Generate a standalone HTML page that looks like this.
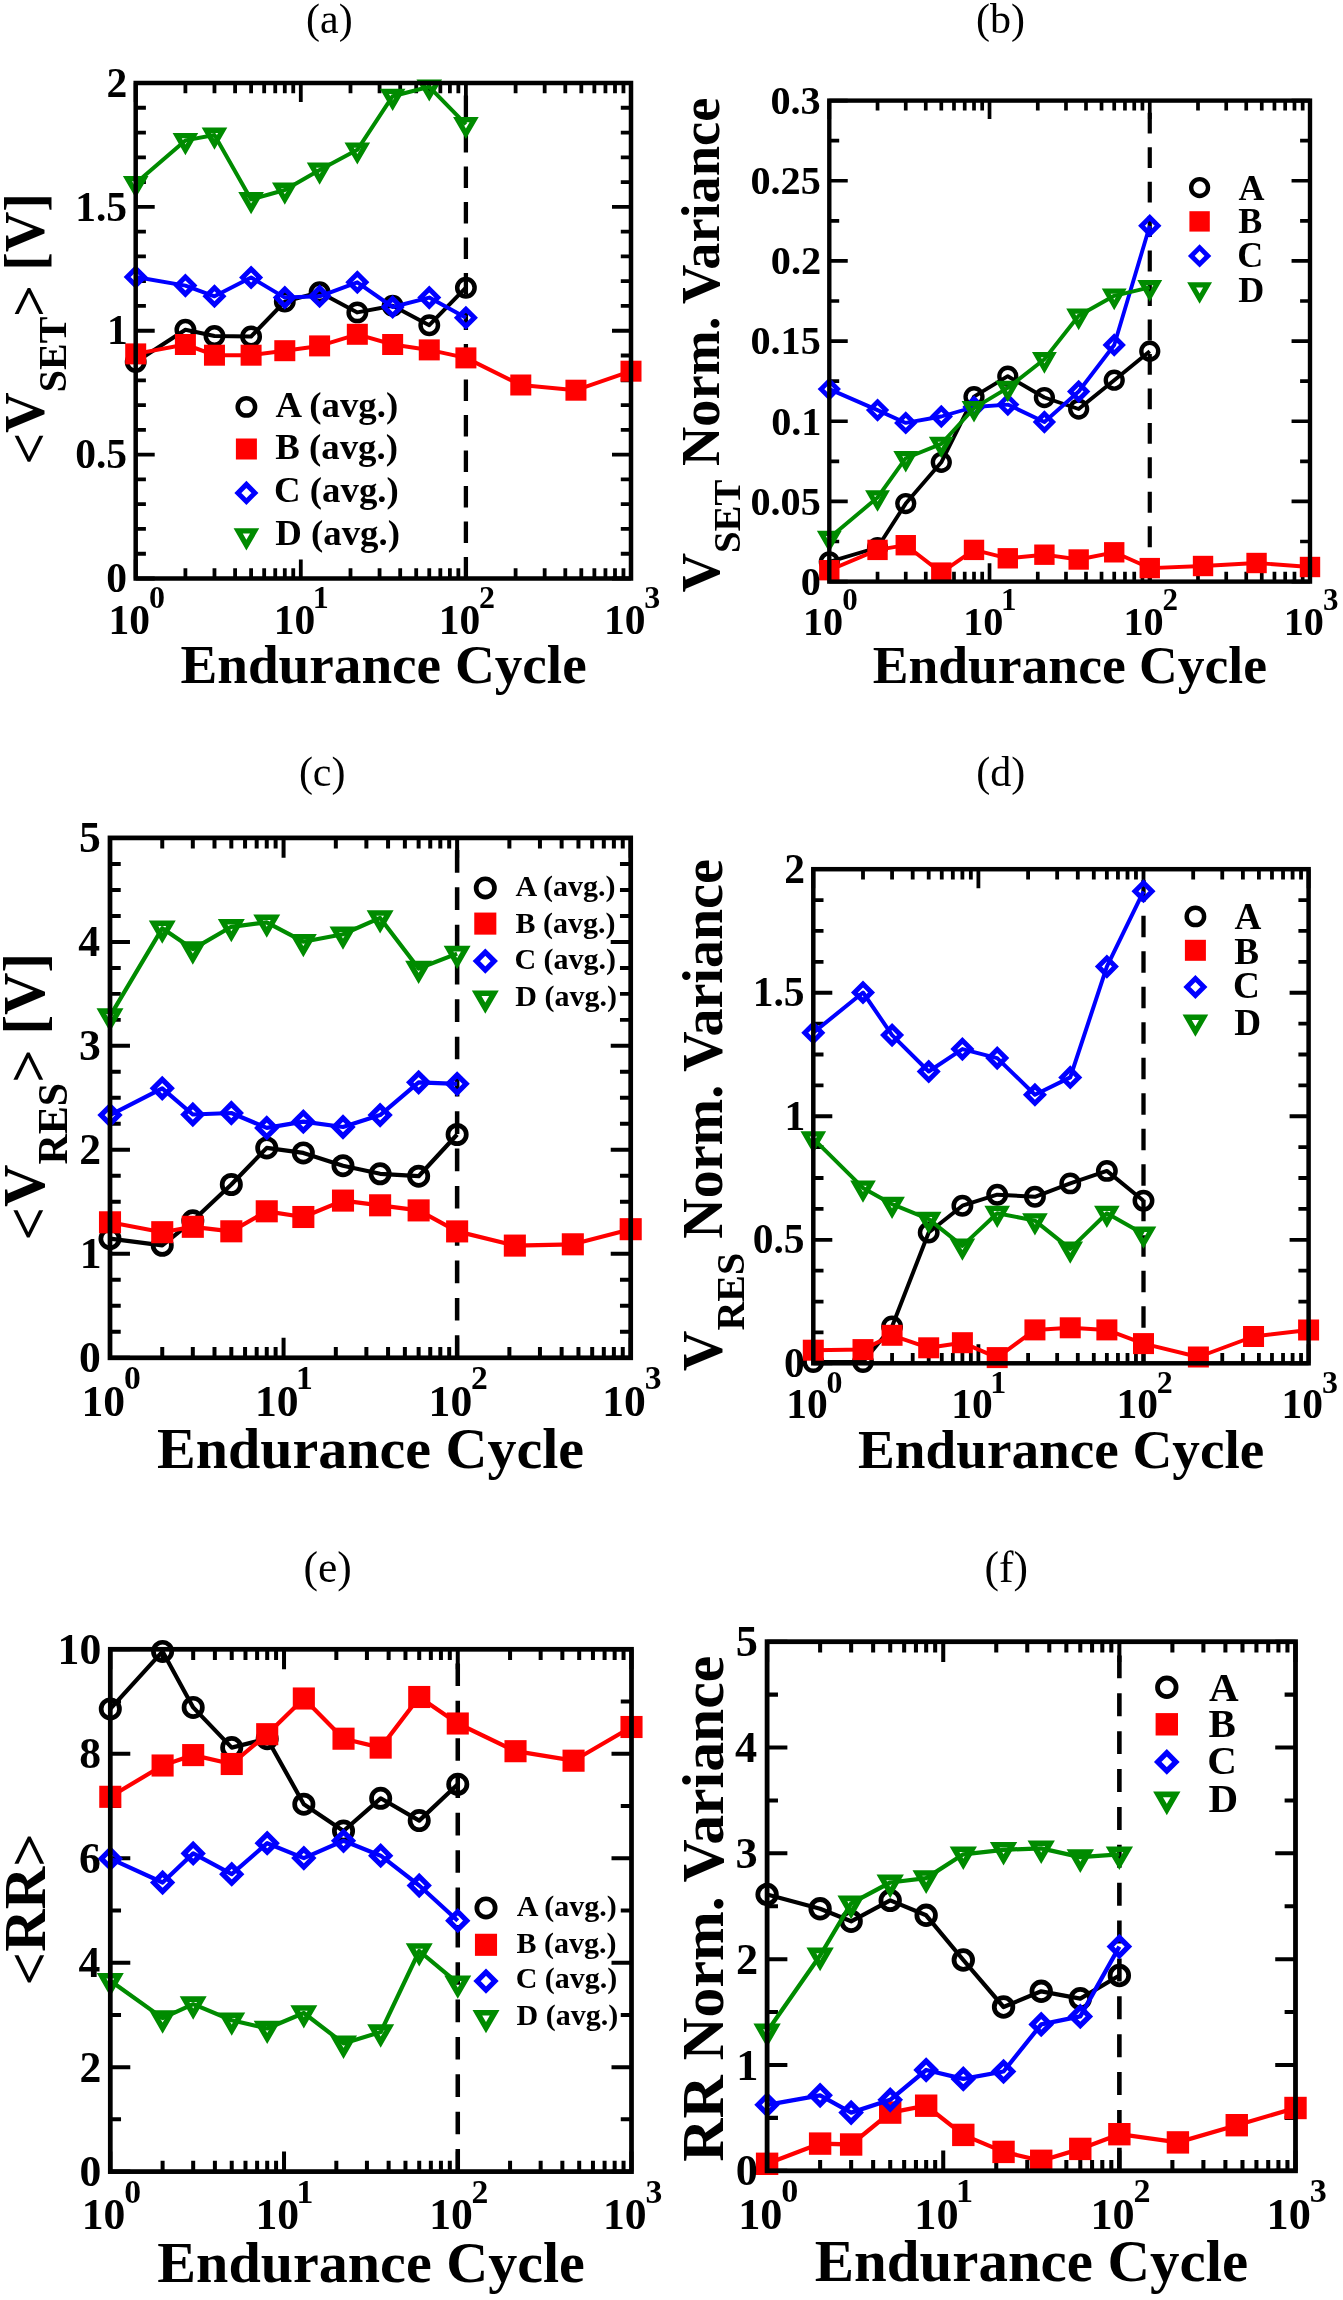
<!DOCTYPE html><html><head><meta charset="utf-8"><style>html,body{margin:0;padding:0;background:#fff;}svg{display:block;will-change:transform}</style></head><body>
<svg width="1343" height="2300" viewBox="0 0 1343 2300" font-family="&quot;Liberation Serif&quot;, serif">
<rect width="1343" height="2300" fill="#fff"/>
<path d="M135.70,578.50v-19.00M135.70,83.00v19.00M185.40,578.50v-10.20M185.40,83.00v10.20M214.47,578.50v-10.20M214.47,83.00v10.20M235.10,578.50v-10.20M235.10,83.00v10.20M251.10,578.50v-10.20M251.10,83.00v10.20M264.17,578.50v-10.20M264.17,83.00v10.20M275.23,578.50v-10.20M275.23,83.00v10.20M284.80,578.50v-10.20M284.80,83.00v10.20M293.25,578.50v-10.20M293.25,83.00v10.20M300.80,578.50v-19.00M300.80,83.00v19.00M350.50,578.50v-10.20M350.50,83.00v10.20M379.57,578.50v-10.20M379.57,83.00v10.20M400.20,578.50v-10.20M400.20,83.00v10.20M416.20,578.50v-10.20M416.20,83.00v10.20M429.27,578.50v-10.20M429.27,83.00v10.20M440.33,578.50v-10.20M440.33,83.00v10.20M449.90,578.50v-10.20M449.90,83.00v10.20M458.35,578.50v-10.20M458.35,83.00v10.20M465.90,578.50v-19.00M465.90,83.00v19.00M515.60,578.50v-10.20M515.60,83.00v10.20M544.67,578.50v-10.20M544.67,83.00v10.20M565.30,578.50v-10.20M565.30,83.00v10.20M581.30,578.50v-10.20M581.30,83.00v10.20M594.37,578.50v-10.20M594.37,83.00v10.20M605.43,578.50v-10.20M605.43,83.00v10.20M615.00,578.50v-10.20M615.00,83.00v10.20M623.45,578.50v-10.20M623.45,83.00v10.20M631.00,578.50v-19.00M631.00,83.00v19.00M135.70,578.50h19.00M631.00,578.50h-19.00M135.70,553.73h10.20M631.00,553.73h-10.20M135.70,528.95h10.20M631.00,528.95h-10.20M135.70,504.17h10.20M631.00,504.17h-10.20M135.70,479.40h10.20M631.00,479.40h-10.20M135.70,454.62h19.00M631.00,454.62h-19.00M135.70,429.85h10.20M631.00,429.85h-10.20M135.70,405.07h10.20M631.00,405.07h-10.20M135.70,380.30h10.20M631.00,380.30h-10.20M135.70,355.52h10.20M631.00,355.52h-10.20M135.70,330.75h19.00M631.00,330.75h-19.00M135.70,305.97h10.20M631.00,305.97h-10.20M135.70,281.20h10.20M631.00,281.20h-10.20M135.70,256.43h10.20M631.00,256.43h-10.20M135.70,231.65h10.20M631.00,231.65h-10.20M135.70,206.88h19.00M631.00,206.88h-19.00M135.70,182.10h10.20M631.00,182.10h-10.20M135.70,157.32h10.20M631.00,157.32h-10.20M135.70,132.55h10.20M631.00,132.55h-10.20M135.70,107.77h10.20M631.00,107.77h-10.20M135.70,83.00h19.00M631.00,83.00h-19.00" stroke="#000" stroke-width="3.80" fill="none"/>
<path d="M465.90,578.50V83.00" stroke="#000" stroke-width="4.30" stroke-dasharray="21.50 14.00"/>
<path d="M135.70,362.00L185.40,329.80L214.47,336.00L251.10,336.50L284.80,301.60L319.61,292.30L357.33,312.40L392.65,305.70L429.27,325.20L465.90,287.70" fill="none" stroke="#000000" stroke-width="4.00" stroke-linejoin="round"/>
<circle cx="135.70" cy="362.00" r="8.70" fill="none" stroke="#000" stroke-width="4.50"/>
<circle cx="185.40" cy="329.80" r="8.70" fill="none" stroke="#000" stroke-width="4.50"/>
<circle cx="214.47" cy="336.00" r="8.70" fill="none" stroke="#000" stroke-width="4.50"/>
<circle cx="251.10" cy="336.50" r="8.70" fill="none" stroke="#000" stroke-width="4.50"/>
<circle cx="284.80" cy="301.60" r="8.70" fill="none" stroke="#000" stroke-width="4.50"/>
<circle cx="319.61" cy="292.30" r="8.70" fill="none" stroke="#000" stroke-width="4.50"/>
<circle cx="357.33" cy="312.40" r="8.70" fill="none" stroke="#000" stroke-width="4.50"/>
<circle cx="392.65" cy="305.70" r="8.70" fill="none" stroke="#000" stroke-width="4.50"/>
<circle cx="429.27" cy="325.20" r="8.70" fill="none" stroke="#000" stroke-width="4.50"/>
<circle cx="465.90" cy="287.70" r="8.70" fill="none" stroke="#000" stroke-width="4.50"/>
<path d="M135.70,353.90L185.40,344.50L214.47,355.20L251.10,355.20L284.80,350.70L319.61,345.90L357.33,334.30L392.65,344.50L429.27,349.90L465.90,357.90L520.79,385.00L575.94,390.20L631.00,371.20" fill="none" stroke="#ff0000" stroke-width="4.00" stroke-linejoin="round"/>
<rect x="125.20" y="343.40" width="21.00" height="21.00" fill="#ff0000"/>
<rect x="174.90" y="334.00" width="21.00" height="21.00" fill="#ff0000"/>
<rect x="203.97" y="344.70" width="21.00" height="21.00" fill="#ff0000"/>
<rect x="240.60" y="344.70" width="21.00" height="21.00" fill="#ff0000"/>
<rect x="274.30" y="340.20" width="21.00" height="21.00" fill="#ff0000"/>
<rect x="309.11" y="335.40" width="21.00" height="21.00" fill="#ff0000"/>
<rect x="346.83" y="323.80" width="21.00" height="21.00" fill="#ff0000"/>
<rect x="382.15" y="334.00" width="21.00" height="21.00" fill="#ff0000"/>
<rect x="418.77" y="339.40" width="21.00" height="21.00" fill="#ff0000"/>
<rect x="455.40" y="347.40" width="21.00" height="21.00" fill="#ff0000"/>
<rect x="510.29" y="374.50" width="21.00" height="21.00" fill="#ff0000"/>
<rect x="565.44" y="379.70" width="21.00" height="21.00" fill="#ff0000"/>
<rect x="620.50" y="360.70" width="21.00" height="21.00" fill="#ff0000"/>
<path d="M135.70,277.00L185.40,285.60L214.47,296.30L251.10,277.50L284.80,297.60L319.61,296.30L357.33,282.30L392.65,307.00L429.27,297.60L465.90,317.70" fill="none" stroke="#0000ff" stroke-width="4.00" stroke-linejoin="round"/>
<path d="M127.20,277.00L135.70,268.50L144.20,277.00L135.70,285.50Z" fill="none" stroke="#0000ff" stroke-width="5.00"/>
<path d="M176.90,285.60L185.40,277.10L193.90,285.60L185.40,294.10Z" fill="none" stroke="#0000ff" stroke-width="5.00"/>
<path d="M205.97,296.30L214.47,287.80L222.97,296.30L214.47,304.80Z" fill="none" stroke="#0000ff" stroke-width="5.00"/>
<path d="M242.60,277.50L251.10,269.00L259.60,277.50L251.10,286.00Z" fill="none" stroke="#0000ff" stroke-width="5.00"/>
<path d="M276.30,297.60L284.80,289.10L293.30,297.60L284.80,306.10Z" fill="none" stroke="#0000ff" stroke-width="5.00"/>
<path d="M311.11,296.30L319.61,287.80L328.11,296.30L319.61,304.80Z" fill="none" stroke="#0000ff" stroke-width="5.00"/>
<path d="M348.83,282.30L357.33,273.80L365.83,282.30L357.33,290.80Z" fill="none" stroke="#0000ff" stroke-width="5.00"/>
<path d="M384.15,307.00L392.65,298.50L401.15,307.00L392.65,315.50Z" fill="none" stroke="#0000ff" stroke-width="5.00"/>
<path d="M420.77,297.60L429.27,289.10L437.77,297.60L429.27,306.10Z" fill="none" stroke="#0000ff" stroke-width="5.00"/>
<path d="M457.40,317.70L465.90,309.20L474.40,317.70L465.90,326.20Z" fill="none" stroke="#0000ff" stroke-width="5.00"/>
<path d="M135.70,183.30L185.40,140.40L214.47,135.00L251.10,199.40L284.80,190.00L319.61,169.90L357.33,149.80L392.65,96.20L429.27,86.80L465.90,124.30" fill="none" stroke="#008b00" stroke-width="4.00" stroke-linejoin="round"/>
<path d="M127.47,178.55L143.93,178.55L135.70,192.80Z" fill="none" stroke="#008b00" stroke-width="5.30"/>
<path d="M177.17,135.65L193.63,135.65L185.40,149.90Z" fill="none" stroke="#008b00" stroke-width="5.30"/>
<path d="M206.25,130.25L222.70,130.25L214.47,144.50Z" fill="none" stroke="#008b00" stroke-width="5.30"/>
<path d="M242.87,194.65L259.33,194.65L251.10,208.90Z" fill="none" stroke="#008b00" stroke-width="5.30"/>
<path d="M276.57,185.25L293.03,185.25L284.80,199.50Z" fill="none" stroke="#008b00" stroke-width="5.30"/>
<path d="M311.38,165.15L327.84,165.15L319.61,179.40Z" fill="none" stroke="#008b00" stroke-width="5.30"/>
<path d="M349.11,145.05L365.56,145.05L357.33,159.30Z" fill="none" stroke="#008b00" stroke-width="5.30"/>
<path d="M384.42,91.45L400.87,91.45L392.65,105.70Z" fill="none" stroke="#008b00" stroke-width="5.30"/>
<path d="M421.05,82.05L437.50,82.05L429.27,96.30Z" fill="none" stroke="#008b00" stroke-width="5.30"/>
<path d="M457.67,119.55L474.13,119.55L465.90,133.80Z" fill="none" stroke="#008b00" stroke-width="5.30"/>
<rect x="135.70" y="83.00" width="495.30" height="495.50" fill="none" stroke="#000" stroke-width="4.50"/>
<text x="106.33" y="592.20" font-size="41.50" font-weight="bold">0</text>
<text x="75.14" y="468.32" font-size="41.50" font-weight="bold">0.5</text>
<text x="106.90" y="344.44" font-size="41.50" font-weight="bold">1</text>
<text x="75.14" y="220.57" font-size="41.50" font-weight="bold">1.5</text>
<text x="106.53" y="96.69" font-size="41.50" font-weight="bold">2</text>
<text x="108.58" y="633.50" font-size="41.50" font-weight="bold">10</text>
<text x="148.98" y="608.20" font-size="31.96" font-weight="bold">0</text>
<text x="273.68" y="633.50" font-size="41.50" font-weight="bold">10</text>
<text x="312.74" y="608.20" font-size="31.96" font-weight="bold">1</text>
<text x="438.78" y="633.50" font-size="41.50" font-weight="bold">10</text>
<text x="479.06" y="608.20" font-size="31.96" font-weight="bold">2</text>
<text x="603.88" y="633.50" font-size="41.50" font-weight="bold">10</text>
<text x="644.30" y="608.20" font-size="31.96" font-weight="bold">3</text>
<text x="180.43" y="682.50" font-size="55.20" font-weight="bold">Endurance Cycle</text>
<text x="306.09" y="32.60" font-size="42.00">(a)</text>
<circle cx="246.40" cy="406.90" r="8.70" fill="none" stroke="#000" stroke-width="4.50"/>
<text x="275.54" y="416.60" font-size="36.80" font-weight="bold">A (avg.)</text>
<rect x="235.90" y="438.50" width="21.00" height="21.00" fill="#ff0000"/>
<text x="275.29" y="459.30" font-size="36.80" font-weight="bold">B (avg.)</text>
<path d="M237.90,492.90L246.40,484.40L254.90,492.90L246.40,501.40Z" fill="none" stroke="#0000ff" stroke-width="5.00"/>
<text x="274.10" y="502.20" font-size="36.80" font-weight="bold">C (avg.)</text>
<path d="M238.17,530.95L254.63,530.95L246.40,545.20Z" fill="none" stroke="#008b00" stroke-width="5.30"/>
<text x="275.25" y="545.40" font-size="36.80" font-weight="bold">D (avg.)</text>
<text transform="translate(43.60,329.50) rotate(-90)" x="-135.12" y="0" font-size="56.00" font-weight="bold"><tspan dy="4.20">&lt;</tspan><tspan dy="-4.20">V</tspan><tspan font-size="40.00" dy="22.00">SET</tspan><tspan dy="-17.80">&gt;</tspan><tspan dy="-4.20"> [V]</tspan></text>
<path d="M829.30,581.60v-18.44M829.30,100.60v18.44M877.54,581.60v-9.90M877.54,100.60v9.90M905.75,581.60v-9.90M905.75,100.60v9.90M925.77,581.60v-9.90M925.77,100.60v9.90M941.30,581.60v-9.90M941.30,100.60v9.90M953.99,581.60v-9.90M953.99,100.60v9.90M964.71,581.60v-9.90M964.71,100.60v9.90M974.01,581.60v-9.90M974.01,100.60v9.90M982.20,581.60v-9.90M982.20,100.60v9.90M989.53,581.60v-18.44M989.53,100.60v18.44M1037.77,581.60v-9.90M1037.77,100.60v9.90M1065.98,581.60v-9.90M1065.98,100.60v9.90M1086.00,581.60v-9.90M1086.00,100.60v9.90M1101.53,581.60v-9.90M1101.53,100.60v9.90M1114.22,581.60v-9.90M1114.22,100.60v9.90M1124.95,581.60v-9.90M1124.95,100.60v9.90M1134.24,581.60v-9.90M1134.24,100.60v9.90M1142.43,581.60v-9.90M1142.43,100.60v9.90M1149.77,581.60v-18.44M1149.77,100.60v18.44M1198.00,581.60v-9.90M1198.00,100.60v9.90M1226.22,581.60v-9.90M1226.22,100.60v9.90M1246.24,581.60v-9.90M1246.24,100.60v9.90M1261.76,581.60v-9.90M1261.76,100.60v9.90M1274.45,581.60v-9.90M1274.45,100.60v9.90M1285.18,581.60v-9.90M1285.18,100.60v9.90M1294.47,581.60v-9.90M1294.47,100.60v9.90M1302.67,581.60v-9.90M1302.67,100.60v9.90M1310.00,581.60v-18.44M1310.00,100.60v18.44M829.30,581.60h18.44M1310.00,581.60h-18.44M829.30,541.52h9.90M1310.00,541.52h-9.90M829.30,501.43h18.44M1310.00,501.43h-18.44M829.30,461.35h9.90M1310.00,461.35h-9.90M829.30,421.27h18.44M1310.00,421.27h-18.44M829.30,381.18h9.90M1310.00,381.18h-9.90M829.30,341.10h18.44M1310.00,341.10h-18.44M829.30,301.02h9.90M1310.00,301.02h-9.90M829.30,260.93h18.44M1310.00,260.93h-18.44M829.30,220.85h9.90M1310.00,220.85h-9.90M829.30,180.77h18.44M1310.00,180.77h-18.44M829.30,140.68h9.90M1310.00,140.68h-9.90M829.30,100.60h18.44M1310.00,100.60h-18.44" stroke="#000" stroke-width="3.69" fill="none"/>
<path d="M1149.77,581.60V100.60" stroke="#000" stroke-width="4.17" stroke-dasharray="20.87 13.59"/>
<path d="M829.30,561.80L877.54,547.50L905.75,503.60L941.30,462.30L974.01,396.70L1007.79,376.20L1044.40,397.50L1078.67,409.00L1114.22,380.20L1149.77,351.20" fill="none" stroke="#000000" stroke-width="3.88" stroke-linejoin="round"/>
<circle cx="829.30" cy="561.80" r="8.44" fill="none" stroke="#000" stroke-width="4.37"/>
<circle cx="877.54" cy="547.50" r="8.44" fill="none" stroke="#000" stroke-width="4.37"/>
<circle cx="905.75" cy="503.60" r="8.44" fill="none" stroke="#000" stroke-width="4.37"/>
<circle cx="941.30" cy="462.30" r="8.44" fill="none" stroke="#000" stroke-width="4.37"/>
<circle cx="974.01" cy="396.70" r="8.44" fill="none" stroke="#000" stroke-width="4.37"/>
<circle cx="1007.79" cy="376.20" r="8.44" fill="none" stroke="#000" stroke-width="4.37"/>
<circle cx="1044.40" cy="397.50" r="8.44" fill="none" stroke="#000" stroke-width="4.37"/>
<circle cx="1078.67" cy="409.00" r="8.44" fill="none" stroke="#000" stroke-width="4.37"/>
<circle cx="1114.22" cy="380.20" r="8.44" fill="none" stroke="#000" stroke-width="4.37"/>
<circle cx="1149.77" cy="351.20" r="8.44" fill="none" stroke="#000" stroke-width="4.37"/>
<path d="M829.30,570.20L877.54,549.90L905.75,545.20L941.30,572.60L974.01,549.90L1007.79,558.30L1044.40,554.70L1078.67,559.50L1114.22,552.30L1149.77,568.10L1203.03,566.00L1256.57,563.00L1310.00,567.00" fill="none" stroke="#ff0000" stroke-width="3.88" stroke-linejoin="round"/>
<rect x="819.11" y="560.01" width="20.38" height="20.38" fill="#ff0000"/>
<rect x="867.34" y="539.71" width="20.38" height="20.38" fill="#ff0000"/>
<rect x="895.56" y="535.01" width="20.38" height="20.38" fill="#ff0000"/>
<rect x="931.11" y="562.41" width="20.38" height="20.38" fill="#ff0000"/>
<rect x="963.81" y="539.71" width="20.38" height="20.38" fill="#ff0000"/>
<rect x="997.60" y="548.11" width="20.38" height="20.38" fill="#ff0000"/>
<rect x="1034.21" y="544.51" width="20.38" height="20.38" fill="#ff0000"/>
<rect x="1068.48" y="549.31" width="20.38" height="20.38" fill="#ff0000"/>
<rect x="1104.03" y="542.11" width="20.38" height="20.38" fill="#ff0000"/>
<rect x="1139.58" y="557.91" width="20.38" height="20.38" fill="#ff0000"/>
<rect x="1192.84" y="555.81" width="20.38" height="20.38" fill="#ff0000"/>
<rect x="1246.37" y="552.81" width="20.38" height="20.38" fill="#ff0000"/>
<rect x="1299.81" y="556.81" width="20.38" height="20.38" fill="#ff0000"/>
<path d="M829.30,389.10L877.54,410.10L905.75,422.90L941.30,416.50L974.01,407.00L1007.79,404.60L1044.40,422.00L1078.67,391.50L1114.22,345.00L1149.77,225.80" fill="none" stroke="#0000ff" stroke-width="3.88" stroke-linejoin="round"/>
<path d="M821.05,389.10L829.30,380.85L837.55,389.10L829.30,397.35Z" fill="none" stroke="#0000ff" stroke-width="4.85"/>
<path d="M869.29,410.10L877.54,401.85L885.78,410.10L877.54,418.35Z" fill="none" stroke="#0000ff" stroke-width="4.85"/>
<path d="M897.50,422.90L905.75,414.65L914.00,422.90L905.75,431.15Z" fill="none" stroke="#0000ff" stroke-width="4.85"/>
<path d="M933.05,416.50L941.30,408.25L949.55,416.50L941.30,424.75Z" fill="none" stroke="#0000ff" stroke-width="4.85"/>
<path d="M965.76,407.00L974.01,398.75L982.25,407.00L974.01,415.25Z" fill="none" stroke="#0000ff" stroke-width="4.85"/>
<path d="M999.54,404.60L1007.79,396.35L1016.04,404.60L1007.79,412.85Z" fill="none" stroke="#0000ff" stroke-width="4.85"/>
<path d="M1036.15,422.00L1044.40,413.75L1052.65,422.00L1044.40,430.25Z" fill="none" stroke="#0000ff" stroke-width="4.85"/>
<path d="M1070.42,391.50L1078.67,383.25L1086.92,391.50L1078.67,399.75Z" fill="none" stroke="#0000ff" stroke-width="4.85"/>
<path d="M1105.97,345.00L1114.22,336.75L1122.47,345.00L1114.22,353.25Z" fill="none" stroke="#0000ff" stroke-width="4.85"/>
<path d="M1141.52,225.80L1149.77,217.55L1158.02,225.80L1149.77,234.05Z" fill="none" stroke="#0000ff" stroke-width="4.85"/>
<path d="M829.30,538.00L877.54,497.50L905.75,458.20L941.30,443.90L974.01,408.20L1007.79,387.90L1044.40,359.30L1078.67,315.80L1114.22,295.80L1149.77,287.30" fill="none" stroke="#008b00" stroke-width="3.88" stroke-linejoin="round"/>
<path d="M821.32,533.39L837.28,533.39L829.30,547.22Z" fill="none" stroke="#008b00" stroke-width="5.14"/>
<path d="M869.55,492.89L885.52,492.89L877.54,506.72Z" fill="none" stroke="#008b00" stroke-width="5.14"/>
<path d="M897.77,453.59L913.74,453.59L905.75,467.42Z" fill="none" stroke="#008b00" stroke-width="5.14"/>
<path d="M933.31,439.29L949.28,439.29L941.30,453.12Z" fill="none" stroke="#008b00" stroke-width="5.14"/>
<path d="M966.02,403.59L981.99,403.59L974.01,417.42Z" fill="none" stroke="#008b00" stroke-width="5.14"/>
<path d="M999.81,383.29L1015.78,383.29L1007.79,397.12Z" fill="none" stroke="#008b00" stroke-width="5.14"/>
<path d="M1036.42,354.69L1052.39,354.69L1044.40,368.52Z" fill="none" stroke="#008b00" stroke-width="5.14"/>
<path d="M1070.69,311.19L1086.66,311.19L1078.67,325.02Z" fill="none" stroke="#008b00" stroke-width="5.14"/>
<path d="M1106.23,291.19L1122.20,291.19L1114.22,305.02Z" fill="none" stroke="#008b00" stroke-width="5.14"/>
<path d="M1141.78,282.69L1157.75,282.69L1149.77,296.52Z" fill="none" stroke="#008b00" stroke-width="5.14"/>
<rect x="829.30" y="100.60" width="480.70" height="481.00" fill="none" stroke="#000" stroke-width="4.37"/>
<text x="800.80" y="594.89" font-size="40.28" font-weight="bold">0</text>
<text x="750.39" y="514.72" font-size="40.28" font-weight="bold">0.05</text>
<text x="771.14" y="434.56" font-size="40.28" font-weight="bold">0.1</text>
<text x="750.39" y="354.39" font-size="40.28" font-weight="bold">0.15</text>
<text x="770.79" y="274.22" font-size="40.28" font-weight="bold">0.2</text>
<text x="750.39" y="194.06" font-size="40.28" font-weight="bold">0.25</text>
<text x="770.43" y="113.89" font-size="40.28" font-weight="bold">0.3</text>
<text x="802.98" y="634.98" font-size="40.28" font-weight="bold">10</text>
<text x="842.19" y="610.42" font-size="31.01" font-weight="bold">0</text>
<text x="963.21" y="634.98" font-size="40.28" font-weight="bold">10</text>
<text x="1001.12" y="610.42" font-size="31.01" font-weight="bold">1</text>
<text x="1123.44" y="634.98" font-size="40.28" font-weight="bold">10</text>
<text x="1162.54" y="610.42" font-size="31.01" font-weight="bold">2</text>
<text x="1283.68" y="634.98" font-size="40.28" font-weight="bold">10</text>
<text x="1322.91" y="610.42" font-size="31.01" font-weight="bold">3</text>
<text x="872.71" y="683.00" font-size="53.57" font-weight="bold">Endurance Cycle</text>
<text x="976.01" y="32.60" font-size="42.00">(b)</text>
<circle cx="1199.60" cy="187.60" r="8.44" fill="none" stroke="#000" stroke-width="4.37"/>
<text x="1238.55" y="200.20" font-size="36.00" font-weight="bold">A</text>
<rect x="1189.41" y="211.21" width="20.38" height="20.38" fill="#ff0000"/>
<text x="1238.30" y="232.80" font-size="36.00" font-weight="bold">B</text>
<path d="M1191.35,255.90L1199.60,247.65L1207.85,255.90L1199.60,264.15Z" fill="none" stroke="#0000ff" stroke-width="4.85"/>
<text x="1237.14" y="267.20" font-size="36.00" font-weight="bold">C</text>
<path d="M1191.62,284.90L1207.58,284.90L1199.60,298.73Z" fill="none" stroke="#008b00" stroke-width="5.14"/>
<text x="1238.27" y="301.60" font-size="36.00" font-weight="bold">D</text>
<text transform="translate(718.60,342.40) rotate(-90)" x="-249.85" y="0" font-size="54.35" font-weight="bold"><tspan dy="0.00">V</tspan><tspan font-size="38.82" dy="21.35">SET</tspan><tspan dy="-21.35"> Norm. Variance</tspan></text>
<path d="M110.00,1357.80v-19.97M110.00,837.90v19.97M162.25,1357.80v-10.72M162.25,837.90v10.72M192.81,1357.80v-10.72M192.81,837.90v10.72M214.50,1357.80v-10.72M214.50,837.90v10.72M231.32,1357.80v-10.72M231.32,837.90v10.72M245.06,1357.80v-10.72M245.06,837.90v10.72M256.68,1357.80v-10.72M256.68,837.90v10.72M266.75,1357.80v-10.72M266.75,837.90v10.72M275.62,1357.80v-10.72M275.62,837.90v10.72M283.57,1357.80v-19.97M283.57,837.90v19.97M335.82,1357.80v-10.72M335.82,837.90v10.72M366.38,1357.80v-10.72M366.38,837.90v10.72M388.06,1357.80v-10.72M388.06,837.90v10.72M404.88,1357.80v-10.72M404.88,837.90v10.72M418.63,1357.80v-10.72M418.63,837.90v10.72M430.25,1357.80v-10.72M430.25,837.90v10.72M440.31,1357.80v-10.72M440.31,837.90v10.72M449.19,1357.80v-10.72M449.19,837.90v10.72M457.13,1357.80v-19.97M457.13,837.90v19.97M509.38,1357.80v-10.72M509.38,837.90v10.72M539.95,1357.80v-10.72M539.95,837.90v10.72M561.63,1357.80v-10.72M561.63,837.90v10.72M578.45,1357.80v-10.72M578.45,837.90v10.72M592.19,1357.80v-10.72M592.19,837.90v10.72M603.81,1357.80v-10.72M603.81,837.90v10.72M613.88,1357.80v-10.72M613.88,837.90v10.72M622.76,1357.80v-10.72M622.76,837.90v10.72M630.70,1357.80v-19.97M630.70,837.90v19.97M110.00,1357.80h19.97M630.70,1357.80h-19.97M110.00,1331.81h10.72M630.70,1331.81h-10.72M110.00,1305.81h10.72M630.70,1305.81h-10.72M110.00,1279.82h10.72M630.70,1279.82h-10.72M110.00,1253.82h19.97M630.70,1253.82h-19.97M110.00,1227.83h10.72M630.70,1227.83h-10.72M110.00,1201.83h10.72M630.70,1201.83h-10.72M110.00,1175.84h10.72M630.70,1175.84h-10.72M110.00,1149.84h19.97M630.70,1149.84h-19.97M110.00,1123.85h10.72M630.70,1123.85h-10.72M110.00,1097.85h10.72M630.70,1097.85h-10.72M110.00,1071.86h10.72M630.70,1071.86h-10.72M110.00,1045.86h19.97M630.70,1045.86h-19.97M110.00,1019.87h10.72M630.70,1019.87h-10.72M110.00,993.87h10.72M630.70,993.87h-10.72M110.00,967.88h10.72M630.70,967.88h-10.72M110.00,941.88h19.97M630.70,941.88h-19.97M110.00,915.88h10.72M630.70,915.88h-10.72M110.00,889.89h10.72M630.70,889.89h-10.72M110.00,863.89h10.72M630.70,863.89h-10.72M110.00,837.90h19.97M630.70,837.90h-19.97" stroke="#000" stroke-width="3.99" fill="none"/>
<path d="M457.13,1357.80V837.90" stroke="#000" stroke-width="4.52" stroke-dasharray="22.60 14.72"/>
<path d="M110.00,1238.70L162.25,1245.30L192.81,1220.80L231.32,1184.50L266.75,1147.90L303.34,1152.90L343.00,1165.70L380.12,1173.80L418.63,1176.20L457.13,1134.50" fill="none" stroke="#000000" stroke-width="4.21" stroke-linejoin="round"/>
<circle cx="110.00" cy="1238.70" r="9.15" fill="none" stroke="#000" stroke-width="4.73"/>
<circle cx="162.25" cy="1245.30" r="9.15" fill="none" stroke="#000" stroke-width="4.73"/>
<circle cx="192.81" cy="1220.80" r="9.15" fill="none" stroke="#000" stroke-width="4.73"/>
<circle cx="231.32" cy="1184.50" r="9.15" fill="none" stroke="#000" stroke-width="4.73"/>
<circle cx="266.75" cy="1147.90" r="9.15" fill="none" stroke="#000" stroke-width="4.73"/>
<circle cx="303.34" cy="1152.90" r="9.15" fill="none" stroke="#000" stroke-width="4.73"/>
<circle cx="343.00" cy="1165.70" r="9.15" fill="none" stroke="#000" stroke-width="4.73"/>
<circle cx="380.12" cy="1173.80" r="9.15" fill="none" stroke="#000" stroke-width="4.73"/>
<circle cx="418.63" cy="1176.20" r="9.15" fill="none" stroke="#000" stroke-width="4.73"/>
<circle cx="457.13" cy="1134.50" r="9.15" fill="none" stroke="#000" stroke-width="4.73"/>
<path d="M110.00,1222.30L162.25,1232.20L192.81,1226.80L231.32,1231.30L266.75,1211.30L303.34,1217.00L343.00,1200.60L380.12,1205.30L418.63,1210.40L457.13,1231.40L514.83,1245.60L572.82,1244.30L630.70,1229.20" fill="none" stroke="#ff0000" stroke-width="4.21" stroke-linejoin="round"/>
<rect x="98.96" y="1211.26" width="22.08" height="22.08" fill="#ff0000"/>
<rect x="151.21" y="1221.16" width="22.08" height="22.08" fill="#ff0000"/>
<rect x="181.77" y="1215.76" width="22.08" height="22.08" fill="#ff0000"/>
<rect x="220.28" y="1220.26" width="22.08" height="22.08" fill="#ff0000"/>
<rect x="255.71" y="1200.26" width="22.08" height="22.08" fill="#ff0000"/>
<rect x="292.30" y="1205.96" width="22.08" height="22.08" fill="#ff0000"/>
<rect x="331.96" y="1189.56" width="22.08" height="22.08" fill="#ff0000"/>
<rect x="369.08" y="1194.26" width="22.08" height="22.08" fill="#ff0000"/>
<rect x="407.59" y="1199.36" width="22.08" height="22.08" fill="#ff0000"/>
<rect x="446.09" y="1220.36" width="22.08" height="22.08" fill="#ff0000"/>
<rect x="503.80" y="1234.56" width="22.08" height="22.08" fill="#ff0000"/>
<rect x="561.78" y="1233.26" width="22.08" height="22.08" fill="#ff0000"/>
<rect x="619.66" y="1218.16" width="22.08" height="22.08" fill="#ff0000"/>
<path d="M110.00,1115.10L162.25,1088.30L192.81,1114.50L231.32,1113.00L266.75,1127.90L303.34,1121.70L343.00,1127.00L380.12,1115.10L418.63,1082.30L457.13,1083.80" fill="none" stroke="#0000ff" stroke-width="4.21" stroke-linejoin="round"/>
<path d="M101.06,1115.10L110.00,1106.16L118.94,1115.10L110.00,1124.04Z" fill="none" stroke="#0000ff" stroke-width="5.26"/>
<path d="M153.31,1088.30L162.25,1079.36L171.18,1088.30L162.25,1097.24Z" fill="none" stroke="#0000ff" stroke-width="5.26"/>
<path d="M183.88,1114.50L192.81,1105.56L201.75,1114.50L192.81,1123.44Z" fill="none" stroke="#0000ff" stroke-width="5.26"/>
<path d="M222.38,1113.00L231.32,1104.06L240.25,1113.00L231.32,1121.94Z" fill="none" stroke="#0000ff" stroke-width="5.26"/>
<path d="M257.81,1127.90L266.75,1118.96L275.68,1127.90L266.75,1136.84Z" fill="none" stroke="#0000ff" stroke-width="5.26"/>
<path d="M294.41,1121.70L303.34,1112.76L312.28,1121.70L303.34,1130.64Z" fill="none" stroke="#0000ff" stroke-width="5.26"/>
<path d="M334.06,1127.00L343.00,1118.06L351.94,1127.00L343.00,1135.94Z" fill="none" stroke="#0000ff" stroke-width="5.26"/>
<path d="M371.19,1115.10L380.12,1106.16L389.06,1115.10L380.12,1124.04Z" fill="none" stroke="#0000ff" stroke-width="5.26"/>
<path d="M409.69,1082.30L418.63,1073.36L427.56,1082.30L418.63,1091.24Z" fill="none" stroke="#0000ff" stroke-width="5.26"/>
<path d="M448.20,1083.80L457.13,1074.86L466.07,1083.80L457.13,1092.74Z" fill="none" stroke="#0000ff" stroke-width="5.26"/>
<path d="M110.00,1016.10L162.25,928.30L192.81,949.10L231.32,926.80L266.75,922.30L303.34,941.70L343.00,934.20L380.12,917.90L418.63,968.50L457.13,953.60" fill="none" stroke="#008b00" stroke-width="4.21" stroke-linejoin="round"/>
<path d="M101.35,1011.11L118.65,1011.11L110.00,1026.09Z" fill="none" stroke="#008b00" stroke-width="5.57"/>
<path d="M153.60,923.31L170.90,923.31L162.25,938.29Z" fill="none" stroke="#008b00" stroke-width="5.57"/>
<path d="M184.16,944.11L201.46,944.11L192.81,959.09Z" fill="none" stroke="#008b00" stroke-width="5.57"/>
<path d="M222.67,921.81L239.97,921.81L231.32,936.79Z" fill="none" stroke="#008b00" stroke-width="5.57"/>
<path d="M258.10,917.31L275.40,917.31L266.75,932.29Z" fill="none" stroke="#008b00" stroke-width="5.57"/>
<path d="M294.69,936.71L311.99,936.71L303.34,951.69Z" fill="none" stroke="#008b00" stroke-width="5.57"/>
<path d="M334.35,929.21L351.65,929.21L343.00,944.19Z" fill="none" stroke="#008b00" stroke-width="5.57"/>
<path d="M371.47,912.91L388.77,912.91L380.12,927.89Z" fill="none" stroke="#008b00" stroke-width="5.57"/>
<path d="M409.98,963.51L427.28,963.51L418.63,978.49Z" fill="none" stroke="#008b00" stroke-width="5.57"/>
<path d="M448.48,948.61L465.78,948.61L457.13,963.59Z" fill="none" stroke="#008b00" stroke-width="5.57"/>
<rect x="110.00" y="837.90" width="520.70" height="519.90" fill="none" stroke="#000" stroke-width="4.73"/>
<text x="79.12" y="1372.20" font-size="43.63" font-weight="bold">0</text>
<text x="79.72" y="1268.22" font-size="43.63" font-weight="bold">1</text>
<text x="79.34" y="1164.24" font-size="43.63" font-weight="bold">2</text>
<text x="78.95" y="1060.26" font-size="43.63" font-weight="bold">3</text>
<text x="78.27" y="956.28" font-size="43.63" font-weight="bold">4</text>
<text x="79.06" y="852.30" font-size="43.63" font-weight="bold">5</text>
<text x="81.49" y="1415.62" font-size="43.63" font-weight="bold">10</text>
<text x="123.96" y="1389.02" font-size="33.59" font-weight="bold">0</text>
<text x="255.05" y="1415.62" font-size="43.63" font-weight="bold">10</text>
<text x="296.12" y="1389.02" font-size="33.59" font-weight="bold">1</text>
<text x="428.62" y="1415.62" font-size="43.63" font-weight="bold">10</text>
<text x="470.97" y="1389.02" font-size="33.59" font-weight="bold">2</text>
<text x="602.19" y="1415.62" font-size="43.63" font-weight="bold">10</text>
<text x="644.68" y="1389.02" font-size="33.59" font-weight="bold">3</text>
<text x="157.03" y="1467.50" font-size="58.03" font-weight="bold">Endurance Cycle</text>
<text x="298.89" y="786.00" font-size="42.00">(c)</text>
<circle cx="485.30" cy="887.90" r="9.15" fill="none" stroke="#000" stroke-width="4.73"/>
<text x="515.61" y="896.20" font-size="30.00" font-weight="bold">A (avg.)</text>
<rect x="474.26" y="912.56" width="22.08" height="22.08" fill="#ff0000"/>
<text x="515.40" y="933.10" font-size="30.00" font-weight="bold">B (avg.)</text>
<path d="M476.36,961.10L485.30,952.16L494.24,961.10L485.30,970.04Z" fill="none" stroke="#0000ff" stroke-width="5.26"/>
<text x="514.44" y="968.90" font-size="30.00" font-weight="bold">C (avg.)</text>
<path d="M476.65,993.21L493.95,993.21L485.30,1008.19Z" fill="none" stroke="#008b00" stroke-width="5.57"/>
<text x="515.37" y="1005.80" font-size="30.00" font-weight="bold">D (avg.)</text>
<text transform="translate(43.60,1097.40) rotate(-90)" x="-143.21" y="0" font-size="58.87" font-weight="bold"><tspan dy="4.42">&lt;</tspan><tspan dy="-4.42">V</tspan><tspan font-size="42.05" dy="23.13">RES</tspan><tspan dy="-18.71">&gt;</tspan><tspan dy="-4.42"> [V]</tspan></text>
<path d="M813.30,1363.30v-19.00M813.30,869.20v19.00M863.00,1363.30v-10.20M863.00,869.20v10.20M892.07,1363.30v-10.20M892.07,869.20v10.20M912.70,1363.30v-10.20M912.70,869.20v10.20M928.70,1363.30v-10.20M928.70,869.20v10.20M941.77,1363.30v-10.20M941.77,869.20v10.20M952.83,1363.30v-10.20M952.83,869.20v10.20M962.40,1363.30v-10.20M962.40,869.20v10.20M970.85,1363.30v-10.20M970.85,869.20v10.20M978.40,1363.30v-19.00M978.40,869.20v19.00M1028.10,1363.30v-10.20M1028.10,869.20v10.20M1057.17,1363.30v-10.20M1057.17,869.20v10.20M1077.80,1363.30v-10.20M1077.80,869.20v10.20M1093.80,1363.30v-10.20M1093.80,869.20v10.20M1106.87,1363.30v-10.20M1106.87,869.20v10.20M1117.93,1363.30v-10.20M1117.93,869.20v10.20M1127.50,1363.30v-10.20M1127.50,869.20v10.20M1135.95,1363.30v-10.20M1135.95,869.20v10.20M1143.50,1363.30v-19.00M1143.50,869.20v19.00M1193.20,1363.30v-10.20M1193.20,869.20v10.20M1222.27,1363.30v-10.20M1222.27,869.20v10.20M1242.90,1363.30v-10.20M1242.90,869.20v10.20M1258.90,1363.30v-10.20M1258.90,869.20v10.20M1271.97,1363.30v-10.20M1271.97,869.20v10.20M1283.03,1363.30v-10.20M1283.03,869.20v10.20M1292.60,1363.30v-10.20M1292.60,869.20v10.20M1301.05,1363.30v-10.20M1301.05,869.20v10.20M1308.60,1363.30v-19.00M1308.60,869.20v19.00M813.30,1363.30h19.00M1308.60,1363.30h-19.00M813.30,1332.42h10.20M1308.60,1332.42h-10.20M813.30,1301.54h10.20M1308.60,1301.54h-10.20M813.30,1270.66h10.20M1308.60,1270.66h-10.20M813.30,1239.78h19.00M1308.60,1239.78h-19.00M813.30,1208.89h10.20M1308.60,1208.89h-10.20M813.30,1178.01h10.20M1308.60,1178.01h-10.20M813.30,1147.13h10.20M1308.60,1147.13h-10.20M813.30,1116.25h19.00M1308.60,1116.25h-19.00M813.30,1085.37h10.20M1308.60,1085.37h-10.20M813.30,1054.49h10.20M1308.60,1054.49h-10.20M813.30,1023.61h10.20M1308.60,1023.61h-10.20M813.30,992.73h19.00M1308.60,992.73h-19.00M813.30,961.84h10.20M1308.60,961.84h-10.20M813.30,930.96h10.20M1308.60,930.96h-10.20M813.30,900.08h10.20M1308.60,900.08h-10.20M813.30,869.20h19.00M1308.60,869.20h-19.00" stroke="#000" stroke-width="3.80" fill="none"/>
<path d="M1143.50,1363.30V869.20" stroke="#000" stroke-width="4.30" stroke-dasharray="21.50 14.00"/>
<path d="M813.30,1362.10L863.00,1362.10L892.07,1326.40L928.70,1232.50L962.40,1205.70L997.21,1194.70L1034.93,1196.80L1070.25,1183.40L1106.87,1170.90L1143.50,1200.70" fill="none" stroke="#000000" stroke-width="4.00" stroke-linejoin="round"/>
<circle cx="813.30" cy="1362.10" r="8.70" fill="none" stroke="#000" stroke-width="4.50"/>
<circle cx="863.00" cy="1362.10" r="8.70" fill="none" stroke="#000" stroke-width="4.50"/>
<circle cx="892.07" cy="1326.40" r="8.70" fill="none" stroke="#000" stroke-width="4.50"/>
<circle cx="928.70" cy="1232.50" r="8.70" fill="none" stroke="#000" stroke-width="4.50"/>
<circle cx="962.40" cy="1205.70" r="8.70" fill="none" stroke="#000" stroke-width="4.50"/>
<circle cx="997.21" cy="1194.70" r="8.70" fill="none" stroke="#000" stroke-width="4.50"/>
<circle cx="1034.93" cy="1196.80" r="8.70" fill="none" stroke="#000" stroke-width="4.50"/>
<circle cx="1070.25" cy="1183.40" r="8.70" fill="none" stroke="#000" stroke-width="4.50"/>
<circle cx="1106.87" cy="1170.90" r="8.70" fill="none" stroke="#000" stroke-width="4.50"/>
<circle cx="1143.50" cy="1200.70" r="8.70" fill="none" stroke="#000" stroke-width="4.50"/>
<path d="M813.30,1350.20L863.00,1349.60L892.07,1335.30L928.70,1347.80L962.40,1342.70L997.21,1357.60L1034.93,1329.90L1070.25,1327.80L1106.87,1329.90L1143.50,1343.60L1198.39,1357.00L1253.54,1336.50L1308.60,1330.00" fill="none" stroke="#ff0000" stroke-width="4.00" stroke-linejoin="round"/>
<rect x="802.80" y="1339.70" width="21.00" height="21.00" fill="#ff0000"/>
<rect x="852.50" y="1339.10" width="21.00" height="21.00" fill="#ff0000"/>
<rect x="881.57" y="1324.80" width="21.00" height="21.00" fill="#ff0000"/>
<rect x="918.20" y="1337.30" width="21.00" height="21.00" fill="#ff0000"/>
<rect x="951.90" y="1332.20" width="21.00" height="21.00" fill="#ff0000"/>
<rect x="986.71" y="1347.10" width="21.00" height="21.00" fill="#ff0000"/>
<rect x="1024.43" y="1319.40" width="21.00" height="21.00" fill="#ff0000"/>
<rect x="1059.75" y="1317.30" width="21.00" height="21.00" fill="#ff0000"/>
<rect x="1096.37" y="1319.40" width="21.00" height="21.00" fill="#ff0000"/>
<rect x="1133.00" y="1333.10" width="21.00" height="21.00" fill="#ff0000"/>
<rect x="1187.89" y="1346.50" width="21.00" height="21.00" fill="#ff0000"/>
<rect x="1243.04" y="1326.00" width="21.00" height="21.00" fill="#ff0000"/>
<rect x="1298.10" y="1319.50" width="21.00" height="21.00" fill="#ff0000"/>
<path d="M813.30,1032.70L863.00,992.50L892.07,1035.10L928.70,1071.50L962.40,1049.10L997.21,1058.10L1034.93,1094.70L1070.25,1077.40L1106.87,966.60L1143.50,891.30" fill="none" stroke="#0000ff" stroke-width="4.00" stroke-linejoin="round"/>
<path d="M804.80,1032.70L813.30,1024.20L821.80,1032.70L813.30,1041.20Z" fill="none" stroke="#0000ff" stroke-width="5.00"/>
<path d="M854.50,992.50L863.00,984.00L871.50,992.50L863.00,1001.00Z" fill="none" stroke="#0000ff" stroke-width="5.00"/>
<path d="M883.57,1035.10L892.07,1026.60L900.57,1035.10L892.07,1043.60Z" fill="none" stroke="#0000ff" stroke-width="5.00"/>
<path d="M920.20,1071.50L928.70,1063.00L937.20,1071.50L928.70,1080.00Z" fill="none" stroke="#0000ff" stroke-width="5.00"/>
<path d="M953.90,1049.10L962.40,1040.60L970.90,1049.10L962.40,1057.60Z" fill="none" stroke="#0000ff" stroke-width="5.00"/>
<path d="M988.71,1058.10L997.21,1049.60L1005.71,1058.10L997.21,1066.60Z" fill="none" stroke="#0000ff" stroke-width="5.00"/>
<path d="M1026.43,1094.70L1034.93,1086.20L1043.43,1094.70L1034.93,1103.20Z" fill="none" stroke="#0000ff" stroke-width="5.00"/>
<path d="M1061.75,1077.40L1070.25,1068.90L1078.75,1077.40L1070.25,1085.90Z" fill="none" stroke="#0000ff" stroke-width="5.00"/>
<path d="M1098.37,966.60L1106.87,958.10L1115.37,966.60L1106.87,975.10Z" fill="none" stroke="#0000ff" stroke-width="5.00"/>
<path d="M1135.00,891.30L1143.50,882.80L1152.00,891.30L1143.50,899.80Z" fill="none" stroke="#0000ff" stroke-width="5.00"/>
<path d="M813.30,1138.70L863.00,1187.90L892.07,1204.20L928.70,1219.10L962.40,1245.90L997.21,1213.20L1034.93,1220.60L1070.25,1248.90L1106.87,1213.20L1143.50,1234.00" fill="none" stroke="#008b00" stroke-width="4.00" stroke-linejoin="round"/>
<path d="M805.07,1133.95L821.53,1133.95L813.30,1148.20Z" fill="none" stroke="#008b00" stroke-width="5.30"/>
<path d="M854.77,1183.15L871.23,1183.15L863.00,1197.40Z" fill="none" stroke="#008b00" stroke-width="5.30"/>
<path d="M883.85,1199.45L900.30,1199.45L892.07,1213.70Z" fill="none" stroke="#008b00" stroke-width="5.30"/>
<path d="M920.47,1214.35L936.93,1214.35L928.70,1228.60Z" fill="none" stroke="#008b00" stroke-width="5.30"/>
<path d="M954.17,1241.15L970.63,1241.15L962.40,1255.40Z" fill="none" stroke="#008b00" stroke-width="5.30"/>
<path d="M988.98,1208.45L1005.44,1208.45L997.21,1222.70Z" fill="none" stroke="#008b00" stroke-width="5.30"/>
<path d="M1026.71,1215.85L1043.16,1215.85L1034.93,1230.10Z" fill="none" stroke="#008b00" stroke-width="5.30"/>
<path d="M1062.02,1244.15L1078.47,1244.15L1070.25,1258.40Z" fill="none" stroke="#008b00" stroke-width="5.30"/>
<path d="M1098.65,1208.45L1115.10,1208.45L1106.87,1222.70Z" fill="none" stroke="#008b00" stroke-width="5.30"/>
<path d="M1135.27,1229.25L1151.73,1229.25L1143.50,1243.50Z" fill="none" stroke="#008b00" stroke-width="5.30"/>
<rect x="813.30" y="869.20" width="495.30" height="494.10" fill="none" stroke="#000" stroke-width="4.50"/>
<text x="783.93" y="1376.99" font-size="41.50" font-weight="bold">0</text>
<text x="752.74" y="1253.47" font-size="41.50" font-weight="bold">0.5</text>
<text x="784.50" y="1129.94" font-size="41.50" font-weight="bold">1</text>
<text x="752.74" y="1006.42" font-size="41.50" font-weight="bold">1.5</text>
<text x="784.13" y="882.90" font-size="41.50" font-weight="bold">2</text>
<text x="786.18" y="1418.30" font-size="41.50" font-weight="bold">10</text>
<text x="826.58" y="1393.00" font-size="31.95" font-weight="bold">0</text>
<text x="951.28" y="1418.30" font-size="41.50" font-weight="bold">10</text>
<text x="990.34" y="1393.00" font-size="31.95" font-weight="bold">1</text>
<text x="1116.38" y="1418.30" font-size="41.50" font-weight="bold">10</text>
<text x="1156.66" y="1393.00" font-size="31.95" font-weight="bold">2</text>
<text x="1281.48" y="1418.30" font-size="41.50" font-weight="bold">10</text>
<text x="1321.90" y="1393.00" font-size="31.95" font-weight="bold">3</text>
<text x="858.03" y="1468.00" font-size="55.20" font-weight="bold">Endurance Cycle</text>
<text x="976.26" y="786.00" font-size="42.00">(d)</text>
<circle cx="1195.40" cy="916.40" r="8.70" fill="none" stroke="#000" stroke-width="4.50"/>
<text x="1234.44" y="928.90" font-size="37.20" font-weight="bold">A</text>
<rect x="1184.90" y="939.80" width="21.00" height="21.00" fill="#ff0000"/>
<text x="1234.18" y="964.20" font-size="37.20" font-weight="bold">B</text>
<path d="M1186.90,987.00L1195.40,978.50L1203.90,987.00L1195.40,995.50Z" fill="none" stroke="#0000ff" stroke-width="5.00"/>
<text x="1232.98" y="998.20" font-size="37.20" font-weight="bold">C</text>
<path d="M1187.17,1017.25L1203.63,1017.25L1195.40,1031.50Z" fill="none" stroke="#008b00" stroke-width="5.30"/>
<text x="1234.15" y="1034.80" font-size="37.20" font-weight="bold">D</text>
<text transform="translate(722.00,1112.50) rotate(-90)" x="-258.54" y="0" font-size="56.00" font-weight="bold"><tspan dy="0.00">V</tspan><tspan font-size="40.00" dy="22.00">RES</tspan><tspan dy="-22.00"> Norm. Variance</tspan></text>
<path d="M110.30,2171.60v-19.99M110.30,1649.30v19.99M162.60,2171.60v-10.73M162.60,1649.30v10.73M193.19,2171.60v-10.73M193.19,1649.30v10.73M214.90,2171.60v-10.73M214.90,1649.30v10.73M231.73,2171.60v-10.73M231.73,1649.30v10.73M245.49,2171.60v-10.73M245.49,1649.30v10.73M257.12,2171.60v-10.73M257.12,1649.30v10.73M267.20,2171.60v-10.73M267.20,1649.30v10.73M276.08,2171.60v-10.73M276.08,1649.30v10.73M284.03,2171.60v-19.99M284.03,1649.30v19.99M336.33,2171.60v-10.73M336.33,1649.30v10.73M366.93,2171.60v-10.73M366.93,1649.30v10.73M388.63,2171.60v-10.73M388.63,1649.30v10.73M405.47,2171.60v-10.73M405.47,1649.30v10.73M419.22,2171.60v-10.73M419.22,1649.30v10.73M430.86,2171.60v-10.73M430.86,1649.30v10.73M440.93,2171.60v-10.73M440.93,1649.30v10.73M449.82,2171.60v-10.73M449.82,1649.30v10.73M457.77,2171.60v-19.99M457.77,1649.30v19.99M510.07,2171.60v-10.73M510.07,1649.30v10.73M540.66,2171.60v-10.73M540.66,1649.30v10.73M562.36,2171.60v-10.73M562.36,1649.30v10.73M579.20,2171.60v-10.73M579.20,1649.30v10.73M592.96,2171.60v-10.73M592.96,1649.30v10.73M604.59,2171.60v-10.73M604.59,1649.30v10.73M614.66,2171.60v-10.73M614.66,1649.30v10.73M623.55,2171.60v-10.73M623.55,1649.30v10.73M631.50,2171.60v-19.99M631.50,1649.30v19.99M110.30,2171.60h19.99M631.50,2171.60h-19.99M110.30,2119.37h10.73M631.50,2119.37h-10.73M110.30,2067.14h19.99M631.50,2067.14h-19.99M110.30,2014.91h10.73M631.50,2014.91h-10.73M110.30,1962.68h19.99M631.50,1962.68h-19.99M110.30,1910.45h10.73M631.50,1910.45h-10.73M110.30,1858.22h19.99M631.50,1858.22h-19.99M110.30,1805.99h10.73M631.50,1805.99h-10.73M110.30,1753.76h19.99M631.50,1753.76h-19.99M110.30,1701.53h10.73M631.50,1701.53h-10.73M110.30,1649.30h19.99M631.50,1649.30h-19.99" stroke="#000" stroke-width="4.00" fill="none"/>
<path d="M457.77,2171.60V1649.30" stroke="#000" stroke-width="4.52" stroke-dasharray="22.62 14.73"/>
<path d="M110.30,1708.90L162.60,1651.40L193.19,1707.40L231.73,1747.60L267.20,1738.70L303.83,1804.20L343.52,1831.00L380.68,1798.30L419.22,1820.60L457.77,1784.30" fill="none" stroke="#000000" stroke-width="4.21" stroke-linejoin="round"/>
<circle cx="110.30" cy="1708.90" r="9.15" fill="none" stroke="#000" stroke-width="4.74"/>
<circle cx="162.60" cy="1651.40" r="9.15" fill="none" stroke="#000" stroke-width="4.74"/>
<circle cx="193.19" cy="1707.40" r="9.15" fill="none" stroke="#000" stroke-width="4.74"/>
<circle cx="231.73" cy="1747.60" r="9.15" fill="none" stroke="#000" stroke-width="4.74"/>
<circle cx="267.20" cy="1738.70" r="9.15" fill="none" stroke="#000" stroke-width="4.74"/>
<circle cx="303.83" cy="1804.20" r="9.15" fill="none" stroke="#000" stroke-width="4.74"/>
<circle cx="343.52" cy="1831.00" r="9.15" fill="none" stroke="#000" stroke-width="4.74"/>
<circle cx="380.68" cy="1798.30" r="9.15" fill="none" stroke="#000" stroke-width="4.74"/>
<circle cx="419.22" cy="1820.60" r="9.15" fill="none" stroke="#000" stroke-width="4.74"/>
<circle cx="457.77" cy="1784.30" r="9.15" fill="none" stroke="#000" stroke-width="4.74"/>
<path d="M110.30,1796.80L162.60,1765.50L193.19,1755.10L231.73,1764.00L267.20,1734.20L303.83,1698.50L343.52,1738.70L380.68,1747.60L419.22,1697.00L457.77,1723.50L515.52,1751.20L573.56,1760.70L631.50,1727.00" fill="none" stroke="#ff0000" stroke-width="4.21" stroke-linejoin="round"/>
<rect x="99.25" y="1785.75" width="22.10" height="22.10" fill="#ff0000"/>
<rect x="151.55" y="1754.45" width="22.10" height="22.10" fill="#ff0000"/>
<rect x="182.14" y="1744.05" width="22.10" height="22.10" fill="#ff0000"/>
<rect x="220.69" y="1752.95" width="22.10" height="22.10" fill="#ff0000"/>
<rect x="256.15" y="1723.15" width="22.10" height="22.10" fill="#ff0000"/>
<rect x="292.78" y="1687.45" width="22.10" height="22.10" fill="#ff0000"/>
<rect x="332.47" y="1727.65" width="22.10" height="22.10" fill="#ff0000"/>
<rect x="369.63" y="1736.55" width="22.10" height="22.10" fill="#ff0000"/>
<rect x="408.18" y="1685.95" width="22.10" height="22.10" fill="#ff0000"/>
<rect x="446.72" y="1712.45" width="22.10" height="22.10" fill="#ff0000"/>
<rect x="504.47" y="1740.15" width="22.10" height="22.10" fill="#ff0000"/>
<rect x="562.51" y="1749.65" width="22.10" height="22.10" fill="#ff0000"/>
<rect x="620.45" y="1715.95" width="22.10" height="22.10" fill="#ff0000"/>
<path d="M110.30,1858.70L162.60,1882.50L193.19,1853.40L231.73,1874.20L267.20,1843.20L303.83,1858.10L343.52,1840.80L380.68,1855.70L419.22,1885.50L457.77,1920.70" fill="none" stroke="#0000ff" stroke-width="4.21" stroke-linejoin="round"/>
<path d="M101.36,1858.70L110.30,1849.76L119.24,1858.70L110.30,1867.64Z" fill="none" stroke="#0000ff" stroke-width="5.26"/>
<path d="M153.65,1882.50L162.60,1873.56L171.54,1882.50L162.60,1891.44Z" fill="none" stroke="#0000ff" stroke-width="5.26"/>
<path d="M184.25,1853.40L193.19,1844.46L202.14,1853.40L193.19,1862.34Z" fill="none" stroke="#0000ff" stroke-width="5.26"/>
<path d="M222.79,1874.20L231.73,1865.26L240.68,1874.20L231.73,1883.14Z" fill="none" stroke="#0000ff" stroke-width="5.26"/>
<path d="M258.25,1843.20L267.20,1834.26L276.14,1843.20L267.20,1852.14Z" fill="none" stroke="#0000ff" stroke-width="5.26"/>
<path d="M294.88,1858.10L303.83,1849.16L312.77,1858.10L303.83,1867.04Z" fill="none" stroke="#0000ff" stroke-width="5.26"/>
<path d="M334.58,1840.80L343.52,1831.86L352.47,1840.80L343.52,1849.74Z" fill="none" stroke="#0000ff" stroke-width="5.26"/>
<path d="M371.74,1855.70L380.68,1846.76L389.63,1855.70L380.68,1864.64Z" fill="none" stroke="#0000ff" stroke-width="5.26"/>
<path d="M410.28,1885.50L419.22,1876.56L428.17,1885.50L419.22,1894.44Z" fill="none" stroke="#0000ff" stroke-width="5.26"/>
<path d="M448.82,1920.70L457.77,1911.76L466.71,1920.70L457.77,1929.64Z" fill="none" stroke="#0000ff" stroke-width="5.26"/>
<path d="M110.30,1980.80L162.60,2018.10L193.19,2004.10L231.73,2020.20L267.20,2028.50L303.83,2013.00L343.52,2043.40L380.68,2032.10L419.22,1951.00L457.77,1983.20" fill="none" stroke="#008b00" stroke-width="4.21" stroke-linejoin="round"/>
<path d="M101.64,1975.80L118.96,1975.80L110.30,1990.80Z" fill="none" stroke="#008b00" stroke-width="5.58"/>
<path d="M153.94,2013.10L171.26,2013.10L162.60,2028.10Z" fill="none" stroke="#008b00" stroke-width="5.58"/>
<path d="M184.53,1999.10L201.85,1999.10L193.19,2014.10Z" fill="none" stroke="#008b00" stroke-width="5.58"/>
<path d="M223.08,2015.20L240.39,2015.20L231.73,2030.20Z" fill="none" stroke="#008b00" stroke-width="5.58"/>
<path d="M258.54,2023.50L275.85,2023.50L267.20,2038.50Z" fill="none" stroke="#008b00" stroke-width="5.58"/>
<path d="M295.17,2008.00L312.49,2008.00L303.83,2023.00Z" fill="none" stroke="#008b00" stroke-width="5.58"/>
<path d="M334.87,2038.40L352.18,2038.40L343.52,2053.40Z" fill="none" stroke="#008b00" stroke-width="5.58"/>
<path d="M372.02,2027.10L389.34,2027.10L380.68,2042.10Z" fill="none" stroke="#008b00" stroke-width="5.58"/>
<path d="M410.57,1946.00L427.88,1946.00L419.22,1961.00Z" fill="none" stroke="#008b00" stroke-width="5.58"/>
<path d="M449.11,1978.20L466.42,1978.20L457.77,1993.20Z" fill="none" stroke="#008b00" stroke-width="5.58"/>
<rect x="110.30" y="1649.30" width="521.20" height="522.30" fill="none" stroke="#000" stroke-width="4.74"/>
<text x="79.39" y="2186.01" font-size="43.67" font-weight="bold">0</text>
<text x="79.61" y="2081.55" font-size="43.67" font-weight="bold">2</text>
<text x="78.54" y="1977.09" font-size="43.67" font-weight="bold">4</text>
<text x="79.01" y="1872.63" font-size="43.67" font-weight="bold">6</text>
<text x="79.18" y="1768.17" font-size="43.67" font-weight="bold">8</text>
<text x="57.56" y="1663.71" font-size="43.67" font-weight="bold">10</text>
<text x="81.76" y="2229.48" font-size="43.67" font-weight="bold">10</text>
<text x="124.28" y="2202.85" font-size="33.63" font-weight="bold">0</text>
<text x="255.49" y="2229.48" font-size="43.67" font-weight="bold">10</text>
<text x="296.60" y="2202.85" font-size="33.63" font-weight="bold">1</text>
<text x="429.23" y="2229.48" font-size="43.67" font-weight="bold">10</text>
<text x="471.61" y="2202.85" font-size="33.63" font-weight="bold">2</text>
<text x="602.96" y="2229.48" font-size="43.67" font-weight="bold">10</text>
<text x="645.49" y="2202.85" font-size="33.63" font-weight="bold">3</text>
<text x="157.37" y="2281.50" font-size="58.09" font-weight="bold">Endurance Cycle</text>
<text x="303.46" y="1582.00" font-size="43.50">(e)</text>
<circle cx="486.00" cy="1907.90" r="9.15" fill="none" stroke="#000" stroke-width="4.74"/>
<text x="516.81" y="1915.60" font-size="30.00" font-weight="bold">A (avg.)</text>
<rect x="474.95" y="1933.75" width="22.10" height="22.10" fill="#ff0000"/>
<text x="516.60" y="1952.50" font-size="30.00" font-weight="bold">B (avg.)</text>
<path d="M477.06,1981.10L486.00,1972.16L494.94,1981.10L486.00,1990.04Z" fill="none" stroke="#0000ff" stroke-width="5.26"/>
<text x="515.64" y="1988.30" font-size="30.00" font-weight="bold">C (avg.)</text>
<path d="M477.34,2012.72L494.66,2012.72L486.00,2027.71Z" fill="none" stroke="#008b00" stroke-width="5.58"/>
<text x="516.57" y="2025.20" font-size="30.00" font-weight="bold">D (avg.)</text>
<text transform="translate(44.80,1909.40) rotate(-90)" x="-76.01" y="0" font-size="58.93" font-weight="bold"><tspan dy="4.42">&lt;</tspan><tspan dy="-4.42">RR</tspan><tspan dy="4.42">&gt;</tspan></text>
<path d="M767.10,2170.80v-20.27M767.10,1641.70v20.27M820.12,2170.80v-10.88M820.12,1641.70v10.88M851.14,2170.80v-10.88M851.14,1641.70v10.88M873.14,2170.80v-10.88M873.14,1641.70v10.88M890.21,2170.80v-10.88M890.21,1641.70v10.88M904.16,2170.80v-10.88M904.16,1641.70v10.88M915.95,2170.80v-10.88M915.95,1641.70v10.88M926.16,2170.80v-10.88M926.16,1641.70v10.88M935.17,2170.80v-10.88M935.17,1641.70v10.88M943.23,2170.80v-20.27M943.23,1641.70v20.27M996.25,2170.80v-10.88M996.25,1641.70v10.88M1027.27,2170.80v-10.88M1027.27,1641.70v10.88M1049.28,2170.80v-10.88M1049.28,1641.70v10.88M1066.35,2170.80v-10.88M1066.35,1641.70v10.88M1080.29,2170.80v-10.88M1080.29,1641.70v10.88M1092.08,2170.80v-10.88M1092.08,1641.70v10.88M1102.30,2170.80v-10.88M1102.30,1641.70v10.88M1111.31,2170.80v-10.88M1111.31,1641.70v10.88M1119.37,2170.80v-20.27M1119.37,1641.70v20.27M1172.39,2170.80v-10.88M1172.39,1641.70v10.88M1203.40,2170.80v-10.88M1203.40,1641.70v10.88M1225.41,2170.80v-10.88M1225.41,1641.70v10.88M1242.48,2170.80v-10.88M1242.48,1641.70v10.88M1256.43,2170.80v-10.88M1256.43,1641.70v10.88M1268.22,2170.80v-10.88M1268.22,1641.70v10.88M1278.43,2170.80v-10.88M1278.43,1641.70v10.88M1287.44,2170.80v-10.88M1287.44,1641.70v10.88M1295.50,2170.80v-20.27M1295.50,1641.70v20.27M767.10,2170.80h20.27M1295.50,2170.80h-20.27M767.10,2117.89h10.88M1295.50,2117.89h-10.88M767.10,2064.98h20.27M1295.50,2064.98h-20.27M767.10,2012.07h10.88M1295.50,2012.07h-10.88M767.10,1959.16h20.27M1295.50,1959.16h-20.27M767.10,1906.25h10.88M1295.50,1906.25h-10.88M767.10,1853.34h20.27M1295.50,1853.34h-20.27M767.10,1800.43h10.88M1295.50,1800.43h-10.88M767.10,1747.52h20.27M1295.50,1747.52h-20.27M767.10,1694.61h10.88M1295.50,1694.61h-10.88M767.10,1641.70h20.27M1295.50,1641.70h-20.27" stroke="#000" stroke-width="4.05" fill="none"/>
<path d="M1119.37,2170.80V1641.70" stroke="#000" stroke-width="4.59" stroke-dasharray="22.94 14.94"/>
<path d="M767.10,1894.50L820.12,1908.80L851.14,1921.30L890.21,1900.40L926.16,1915.30L963.30,1960.00L1003.55,2007.00L1041.22,1991.30L1080.29,1998.70L1119.37,1975.50" fill="none" stroke="#000000" stroke-width="4.27" stroke-linejoin="round"/>
<circle cx="767.10" cy="1894.50" r="9.28" fill="none" stroke="#000" stroke-width="4.80"/>
<circle cx="820.12" cy="1908.80" r="9.28" fill="none" stroke="#000" stroke-width="4.80"/>
<circle cx="851.14" cy="1921.30" r="9.28" fill="none" stroke="#000" stroke-width="4.80"/>
<circle cx="890.21" cy="1900.40" r="9.28" fill="none" stroke="#000" stroke-width="4.80"/>
<circle cx="926.16" cy="1915.30" r="9.28" fill="none" stroke="#000" stroke-width="4.80"/>
<circle cx="963.30" cy="1960.00" r="9.28" fill="none" stroke="#000" stroke-width="4.80"/>
<circle cx="1003.55" cy="2007.00" r="9.28" fill="none" stroke="#000" stroke-width="4.80"/>
<circle cx="1041.22" cy="1991.30" r="9.28" fill="none" stroke="#000" stroke-width="4.80"/>
<circle cx="1080.29" cy="1998.70" r="9.28" fill="none" stroke="#000" stroke-width="4.80"/>
<circle cx="1119.37" cy="1975.50" r="9.28" fill="none" stroke="#000" stroke-width="4.80"/>
<path d="M767.10,2163.80L820.12,2143.60L851.14,2144.50L890.21,2112.60L926.16,2105.70L963.30,2134.90L1003.55,2151.90L1041.22,2160.80L1080.29,2148.90L1119.37,2134.20L1177.92,2142.40L1236.76,2125.20L1295.50,2108.00" fill="none" stroke="#ff0000" stroke-width="4.27" stroke-linejoin="round"/>
<rect x="755.90" y="2152.60" width="22.40" height="22.40" fill="#ff0000"/>
<rect x="808.92" y="2132.40" width="22.40" height="22.40" fill="#ff0000"/>
<rect x="839.94" y="2133.30" width="22.40" height="22.40" fill="#ff0000"/>
<rect x="879.01" y="2101.40" width="22.40" height="22.40" fill="#ff0000"/>
<rect x="914.96" y="2094.50" width="22.40" height="22.40" fill="#ff0000"/>
<rect x="952.10" y="2123.70" width="22.40" height="22.40" fill="#ff0000"/>
<rect x="992.34" y="2140.70" width="22.40" height="22.40" fill="#ff0000"/>
<rect x="1030.02" y="2149.60" width="22.40" height="22.40" fill="#ff0000"/>
<rect x="1069.09" y="2137.70" width="22.40" height="22.40" fill="#ff0000"/>
<rect x="1108.16" y="2123.00" width="22.40" height="22.40" fill="#ff0000"/>
<rect x="1166.72" y="2131.20" width="22.40" height="22.40" fill="#ff0000"/>
<rect x="1225.56" y="2114.00" width="22.40" height="22.40" fill="#ff0000"/>
<rect x="1284.30" y="2096.80" width="22.40" height="22.40" fill="#ff0000"/>
<path d="M767.10,2104.80L820.12,2095.30L851.14,2112.60L890.21,2099.80L926.16,2070.00L963.30,2078.90L1003.55,2071.50L1041.22,2024.40L1080.29,2016.40L1119.37,1946.60" fill="none" stroke="#0000ff" stroke-width="4.27" stroke-linejoin="round"/>
<path d="M758.03,2104.80L767.10,2095.73L776.17,2104.80L767.10,2113.87Z" fill="none" stroke="#0000ff" stroke-width="5.33"/>
<path d="M811.05,2095.30L820.12,2086.23L829.19,2095.30L820.12,2104.37Z" fill="none" stroke="#0000ff" stroke-width="5.33"/>
<path d="M842.07,2112.60L851.14,2103.53L860.20,2112.60L851.14,2121.67Z" fill="none" stroke="#0000ff" stroke-width="5.33"/>
<path d="M881.14,2099.80L890.21,2090.73L899.28,2099.80L890.21,2108.87Z" fill="none" stroke="#0000ff" stroke-width="5.33"/>
<path d="M917.10,2070.00L926.16,2060.93L935.23,2070.00L926.16,2079.07Z" fill="none" stroke="#0000ff" stroke-width="5.33"/>
<path d="M954.23,2078.90L963.30,2069.83L972.37,2078.90L963.30,2087.97Z" fill="none" stroke="#0000ff" stroke-width="5.33"/>
<path d="M994.48,2071.50L1003.55,2062.43L1012.61,2071.50L1003.55,2080.57Z" fill="none" stroke="#0000ff" stroke-width="5.33"/>
<path d="M1032.15,2024.40L1041.22,2015.33L1050.28,2024.40L1041.22,2033.47Z" fill="none" stroke="#0000ff" stroke-width="5.33"/>
<path d="M1071.22,2016.40L1080.29,2007.33L1089.36,2016.40L1080.29,2025.47Z" fill="none" stroke="#0000ff" stroke-width="5.33"/>
<path d="M1110.30,1946.60L1119.37,1937.53L1128.43,1946.60L1119.37,1955.67Z" fill="none" stroke="#0000ff" stroke-width="5.33"/>
<path d="M767.10,2031.50L820.12,1955.50L851.14,1903.40L890.21,1882.50L926.16,1878.10L963.30,1854.30L1003.55,1849.80L1041.22,1848.30L1080.29,1857.20L1119.37,1854.30" fill="none" stroke="#008b00" stroke-width="4.27" stroke-linejoin="round"/>
<path d="M758.32,2026.43L775.88,2026.43L767.10,2041.63Z" fill="none" stroke="#008b00" stroke-width="5.65"/>
<path d="M811.34,1950.43L828.90,1950.43L820.12,1965.63Z" fill="none" stroke="#008b00" stroke-width="5.65"/>
<path d="M842.36,1898.33L859.91,1898.33L851.14,1913.53Z" fill="none" stroke="#008b00" stroke-width="5.65"/>
<path d="M881.43,1877.43L898.99,1877.43L890.21,1892.63Z" fill="none" stroke="#008b00" stroke-width="5.65"/>
<path d="M917.39,1873.03L934.94,1873.03L926.16,1888.23Z" fill="none" stroke="#008b00" stroke-width="5.65"/>
<path d="M954.53,1849.23L972.08,1849.23L963.30,1864.43Z" fill="none" stroke="#008b00" stroke-width="5.65"/>
<path d="M994.77,1844.73L1012.32,1844.73L1003.55,1859.93Z" fill="none" stroke="#008b00" stroke-width="5.65"/>
<path d="M1032.44,1843.23L1049.99,1843.23L1041.22,1858.43Z" fill="none" stroke="#008b00" stroke-width="5.65"/>
<path d="M1071.51,1852.13L1089.07,1852.13L1080.29,1867.33Z" fill="none" stroke="#008b00" stroke-width="5.65"/>
<path d="M1110.59,1849.23L1128.14,1849.23L1119.37,1864.43Z" fill="none" stroke="#008b00" stroke-width="5.65"/>
<rect x="767.10" y="1641.70" width="528.40" height="529.10" fill="none" stroke="#000" stroke-width="4.80"/>
<text x="735.77" y="2185.41" font-size="44.27" font-weight="bold">0</text>
<text x="736.37" y="2079.59" font-size="44.27" font-weight="bold">1</text>
<text x="735.98" y="1973.77" font-size="44.27" font-weight="bold">2</text>
<text x="735.59" y="1867.95" font-size="44.27" font-weight="bold">3</text>
<text x="734.90" y="1762.13" font-size="44.27" font-weight="bold">4</text>
<text x="735.70" y="1656.31" font-size="44.27" font-weight="bold">5</text>
<text x="738.17" y="2229.48" font-size="44.27" font-weight="bold">10</text>
<text x="781.27" y="2202.48" font-size="34.09" font-weight="bold">0</text>
<text x="914.30" y="2229.48" font-size="44.27" font-weight="bold">10</text>
<text x="955.97" y="2202.48" font-size="34.09" font-weight="bold">1</text>
<text x="1090.43" y="2229.48" font-size="44.27" font-weight="bold">10</text>
<text x="1133.40" y="2202.48" font-size="34.09" font-weight="bold">2</text>
<text x="1266.57" y="2229.48" font-size="44.27" font-weight="bold">10</text>
<text x="1309.69" y="2202.48" font-size="34.09" font-weight="bold">3</text>
<text x="814.82" y="2281.00" font-size="58.89" font-weight="bold">Endurance Cycle</text>
<text x="984.57" y="1582.00" font-size="43.50">(f)</text>
<circle cx="1166.80" cy="1687.30" r="9.28" fill="none" stroke="#000" stroke-width="4.80"/>
<text x="1208.90" y="1700.70" font-size="41.00" font-weight="bold">A</text>
<rect x="1155.60" y="1713.10" width="22.40" height="22.40" fill="#ff0000"/>
<text x="1208.62" y="1736.90" font-size="41.00" font-weight="bold">B</text>
<path d="M1157.73,1761.90L1166.80,1752.83L1175.87,1761.90L1166.80,1770.97Z" fill="none" stroke="#0000ff" stroke-width="5.33"/>
<text x="1207.30" y="1774.20" font-size="41.00" font-weight="bold">C</text>
<path d="M1158.02,1794.33L1175.58,1794.33L1166.80,1809.53Z" fill="none" stroke="#008b00" stroke-width="5.65"/>
<text x="1208.58" y="1811.90" font-size="41.00" font-weight="bold">D</text>
<text transform="translate(723.20,1905.70) rotate(-90)" x="-256.06" y="0" font-size="59.74" font-weight="bold"><tspan dy="0.00">RR Norm. Variance</tspan></text>
</svg></body></html>
